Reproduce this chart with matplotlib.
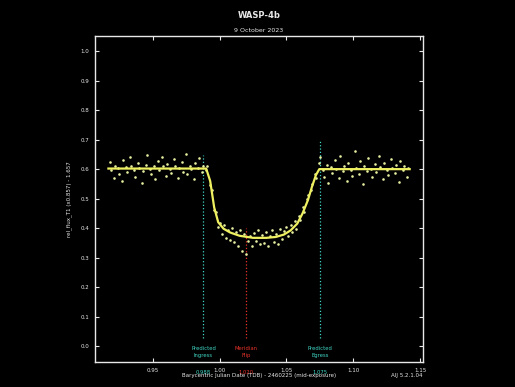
import matplotlib.pyplot as plt
import numpy as np

############------input-----##############
savename = "out.png"

title = 'WASP-4b'
subtitle = '9 October 2023'
xlabel = 'Barycentric Julian Date (TDB) - 2460225 (mid-exposure)'
ylabel = 'rel_flux_T1 (x0.857) - 1.657'
version = 'AIJ 5.2.1.04'

# pre-ingress
t_pre = [0.918, 0.919, 0.921, 0.922, 0.924, 0.925, 0.927, 0.928, 0.930, 0.931,
         0.933, 0.934, 0.936, 0.937, 0.939, 0.940, 0.942, 0.943, 0.945, 0.946,
         0.948, 0.949, 0.951, 0.952, 0.954, 0.955, 0.957, 0.958, 0.960, 0.961,
         0.963, 0.964, 0.966, 0.967, 0.969, 0.970, 0.972, 0.973, 0.975, 0.976,
         0.978, 0.979, 0.981, 0.982, 0.984, 0.985, 0.987, 0.988, 0.990]
f_pre = [0.625, 0.598, 0.570, 0.611, 0.603, 0.582, 0.560, 0.631, 0.607, 0.589,
         0.640, 0.612, 0.598, 0.575, 0.620, 0.605, 0.553, 0.593, 0.615, 0.648,
         0.601, 0.584, 0.610, 0.566, 0.627, 0.596, 0.642, 0.609, 0.578, 0.618,
         0.600, 0.588, 0.635, 0.612, 0.571, 0.604, 0.625, 0.592, 0.650, 0.583,
         0.610, 0.599, 0.565, 0.622, 0.603, 0.638, 0.590, 0.612, 0.597]

# in transit
t_in = [0.991, 0.993, 0.994, 0.996, 0.997, 0.999, 1.000, 1.002, 1.003, 1.005,
        1.006, 1.008, 1.009, 1.011, 1.012, 1.014, 1.015, 1.017, 1.018, 1.020,
        1.021, 1.023, 1.024, 1.026, 1.027, 1.029, 1.030, 1.032, 1.033, 1.035,
        1.036, 1.038, 1.039, 1.041, 1.042, 1.044, 1.045, 1.047, 1.048, 1.050,
        1.051, 1.053, 1.054, 1.056, 1.057, 1.059, 1.060, 1.062, 1.063, 1.065,
        1.066, 1.068, 1.069, 1.071, 1.072, 1.074]
f_in = [0.612, 0.545, 0.530, 0.462, 0.455, 0.405, 0.418, 0.380, 0.412, 0.365,
        0.395, 0.360, 0.402, 0.352, 0.388, 0.340, 0.395, 0.322, 0.380, 0.312,
        0.355, 0.372, 0.340, 0.383, 0.358, 0.392, 0.345, 0.375, 0.350, 0.388,
        0.340, 0.372, 0.395, 0.352, 0.380, 0.345, 0.398, 0.362, 0.390, 0.405,
        0.372, 0.412, 0.388, 0.425, 0.398, 0.440, 0.428, 0.470, 0.455, 0.500,
        0.512, 0.530, 0.548, 0.585, 0.570, 0.620]

# post-egress
t_post = [1.075, 1.077, 1.078, 1.080, 1.081, 1.083, 1.084, 1.086, 1.087, 1.089,
          1.090, 1.092, 1.093, 1.095, 1.096, 1.098, 1.099, 1.101, 1.102, 1.104,
          1.105, 1.107, 1.108, 1.110, 1.111, 1.113, 1.114, 1.116, 1.117, 1.119,
          1.120, 1.122, 1.123, 1.125, 1.126, 1.128, 1.129, 1.131, 1.132, 1.134,
          1.135, 1.137, 1.138, 1.140, 1.141]
f_post = [0.640, 0.596, 0.575, 0.615, 0.552, 0.608, 0.588, 0.632, 0.601, 0.570,
          0.645, 0.593, 0.612, 0.560, 0.620, 0.598, 0.578, 0.660, 0.605, 0.585,
          0.628, 0.548, 0.611, 0.594, 0.637, 0.602, 0.572, 0.618, 0.590, 0.645,
          0.607, 0.566, 0.622, 0.598, 0.580, 0.633, 0.605, 0.588, 0.615, 0.558,
          0.626, 0.597, 0.612, 0.575, 0.604]

# transit model
t_model = [0.917, 0.990, 0.993, 0.996, 0.999, 1.003, 1.008, 1.015, 1.025, 1.035,
           1.042, 1.048, 1.053, 1.058, 1.062, 1.066, 1.069, 1.072, 1.0745, 1.142]
f_model = [0.602, 0.602, 0.560, 0.470, 0.420, 0.398, 0.385, 0.374, 0.367, 0.367,
           0.370, 0.378, 0.392, 0.415, 0.450, 0.495, 0.540, 0.580, 0.600, 0.600]

# markers: time, label, value text, colour, top of line
mark_t = [0.988, 1.020, 1.075]
mark_lab = ['Predicted\nIngress', 'Meridian\nFlip', 'Predicted\nEgress']
mark_val = ['0.988', '1.020', '1.075']
mark_col = ['#3fd6c4', '#e8322a', '#3fd6c4']
mark_top = [0.647, 0.40, 0.70]

ptcol = '#e6eea0'
modcol = '#eef060'
fg = '#e8e8e8'
##########################################

fig = plt.figure(figsize=(5.15, 3.87), dpi=100, facecolor='black')
ax1 = fig.add_axes([0.1845, 0.0646, 0.637, 0.842], facecolor='black')

t = t_pre + t_in + t_post
f = f_pre + f_in + f_post
ax1.scatter(t, f, s=3.5, color=ptcol, linewidths=0, zorder=3)
ax1.plot(t_model, f_model, '-', color=modcol, linewidth=1.6, zorder=4)

for i in range(len(mark_t)):
    ax1.plot([mark_t[i], mark_t[i]], [0.027, mark_top[i]], ':', color=mark_col[i], linewidth=0.9, zorder=2)
    ax1.text(mark_t[i], 0.0, mark_lab[i], color=mark_col[i], fontsize=3.8,
             ha='center', va='top', linespacing=1.6)
    fig.text((95 + (mark_t[i] - 0.907) / 0.245 * 328) / 515, 1 - 372 / 387, mark_val[i],
             color=mark_col[i], fontsize=3.8, ha='center', va='center')

#軸設定
ax1.set_xlim(0.907, 1.152)
ax1.set_ylim(-0.054, 1.051)
ax1.set_xticks([0.95, 1.00, 1.05, 1.10, 1.15])
ax1.set_xticklabels(['0.95', '1.00', '1.05', '1.10', '1.15'])
ax1.set_yticks(np.linspace(0, 1, 11))
ax1.set_yticklabels(['%.1f' % v for v in np.linspace(0, 1, 11)])
ax1.tick_params(direction='in', top=True, right=True, colors=fg, labelcolor=fg,
                labelsize=4, length=3, width=0.8, pad=4)
for sp in ax1.spines.values():
    sp.set_color(fg)
    sp.set_linewidth(1.0)

ax1.set_ylabel(ylabel, fontsize=4, color=fg, labelpad=6)
fig.text(259 / 515, 1 - 376 / 387, xlabel, fontsize=4, color=fg, ha='center', va='center')
fig.text(407 / 515, 1 - 376 / 387, version, fontsize=4, color=fg, ha='center', va='center')

fig.text(0.503, 1 - 15 / 387, title, fontsize=6, fontweight='bold', color=fg, ha='center', va='center')
fig.text(0.503, 1 - 30 / 387, subtitle, fontsize=4.5, color=fg, ha='center', va='center')

plt.savefig(savename, facecolor='black')
